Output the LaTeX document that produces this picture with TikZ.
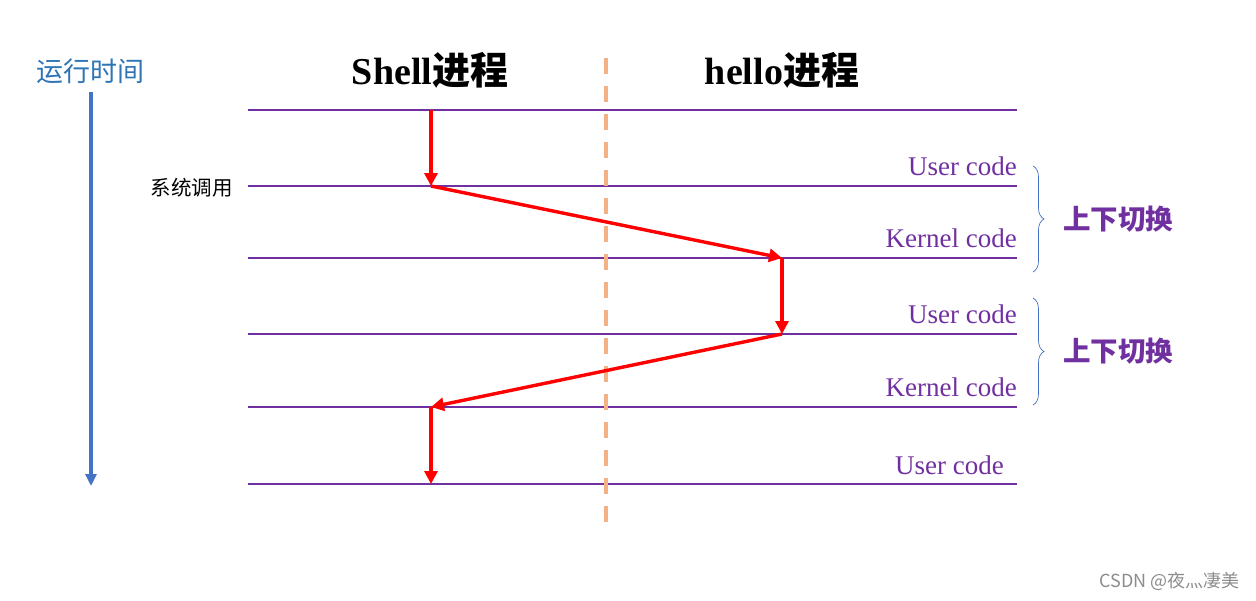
\documentclass[tikz,border=0pt]{standalone}
\usepackage{fontspec}
\setmainfont{Liberation Serif}
\newfontfamily\cjk{Noto Sans CJK SC}
\usepackage{xcolor}
\usetikzlibrary{arrows.meta,decorations.pathreplacing}
\definecolor{lvlpurple}{RGB}{112,48,160}
\definecolor{timeblue}{RGB}{68,114,196}
\definecolor{labelblue}{RGB}{46,117,182}
\definecolor{seporange}{RGB}{244,177,131}

\begin{document}
\begin{tikzpicture}[x=1pt,y=-1pt,
      lvl/.style={draw=lvlpurple,line width=1.4pt},
      code/.style={text=lvlpurple,font=\fontsize{27}{29}\selectfont,anchor=base east,inner sep=0pt},
      ttl/.style={font=\fontsize{38}{40}\selectfont\bfseries,inner sep=0pt},
      sw/.style={text=lvlpurple,font=\cjk\bfseries\fontsize{27.5}{29}\selectfont,anchor=west,inner sep=0pt},
      flow/.style={draw=red,line width=3.4pt,-{Triangle[length=13pt,width=13pt]}},
      brc/.style={draw=timeblue,line width=0.7pt,decorate,decoration={brace,amplitude=11pt}}]
      \useasboundingbox (0,0) rectangle (1256,600);
      \foreach \y [count=\i] in {110,186,258,334,407,484} {
        \coordinate (L\i) at (248,\y);
        \coordinate (R\i) at (1017,\y);
        \draw[lvl] (L\i) -- (R\i);
      }
      \coordinate (sepTop) at (606,58);
      \coordinate (sepBot) at (606,526);
      \draw[seporange,line width=4pt,dash pattern=on 16pt off 12pt] (sepTop) -- (sepBot);
      \node[text=labelblue,font=\cjk\fontsize{27}{29}\selectfont] (time) at (90,71) {运行时间};
      \coordinate (timeEnd) at (91,486);
      \draw[timeblue,line width=4pt,-{Triangle[length=12pt,width=11pt]}] (91,92) -- (timeEnd);
      \node[ttl] (shell) at (430,70) {Shell{\cjk 进程}};
      \node[ttl] (hello) at (782,70) {hello{\cjk 进程}};
      \node[font=\cjk\fontsize{20.5}{22}\selectfont,anchor=east,inner sep=0pt] (sys) at (233,188) {系统调用};
      \node[code] (u1) at (1017,175) {User code};
      \node[code] (k1) at (1017,247) {Kernel code};
      \node[code] (u2) at (1017,323) {User code};
      \node[code] (k2) at (1017,396) {Kernel code};
      \node[code] (u3) at (1004,474) {User code};
      \coordinate (s1) at (431,110);
      \coordinate (s2) at (431,186);
      \coordinate (h3) at (782,258);
      \coordinate (h4) at (782,334);
      \coordinate (s5) at (431,407);
      \coordinate (s6) at (431,484);
      \draw[flow] (s1) -- (s2);
      \draw[flow] (s2) -- (h3);
      \draw[flow] (h3) -- (h4);
      \draw[flow] (h4) -- (s5);
      \draw[flow] (s5) -- (s6);
      \draw[brc] (1033,166) -- (1033,272);
      \draw[brc] (1033,298) -- (1033,405);
      \node[sw] (sw1) at (1063,219) {上下切换};
      \node[sw] (sw2) at (1063,351) {上下切换};
      \node[text=black!45,font=\cjk\fontsize{18}{20}\selectfont,anchor=east,inner sep=0pt] (mark) at (1240,581) {CSDN @夜灬凄美};
    \end{tikzpicture}
\end{document}
